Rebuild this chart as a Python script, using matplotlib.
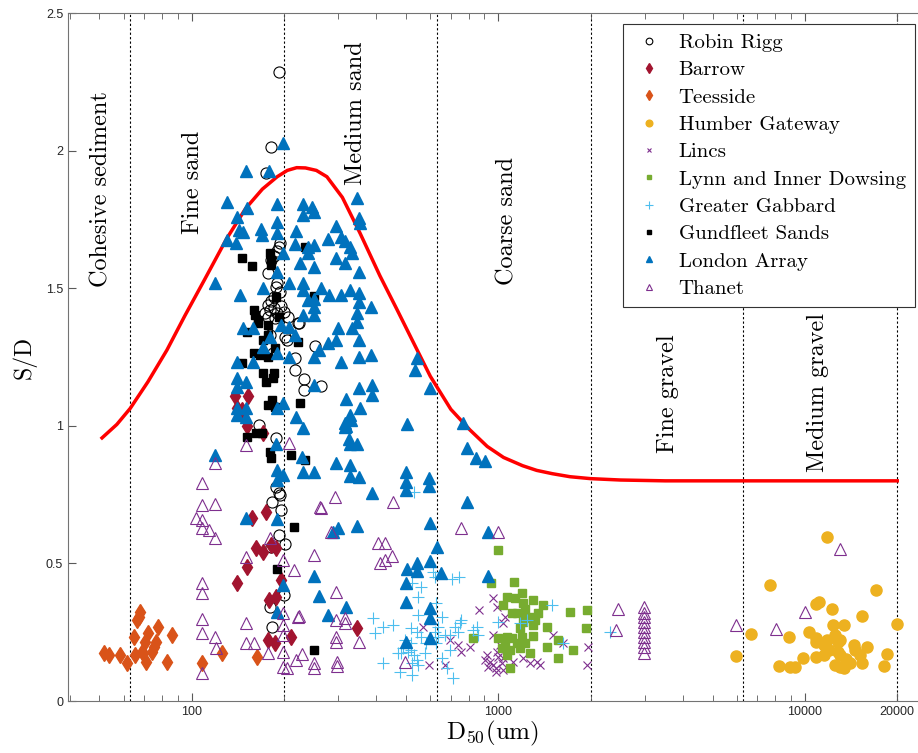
import numpy as np
import matplotlib
matplotlib.use("Agg")
import matplotlib.pyplot as plt
from matplotlib.ticker import LogLocator, NullFormatter, FixedLocator, FixedFormatter

plt.rcParams['mathtext.fontset'] = 'cm'

# ---- data (D50 in um, S/D) ----
robin_d = [192, 182, 175, 194, 192, 190, 186, 182, 178, 190, 188, 194, 185, 181, 177, 180, 185, 190, 196, 200,
           173, 178, 187, 206, 222, 180, 204, 201, 224, 184, 217, 217, 232, 232, 252, 265, 166, 188, 188, 193,
           183, 196, 193, 201, 182, 200, 180, 183, 194]
robin_sd = [2.287, 2.014, 1.917, 1.663, 1.651, 1.636, 1.617, 1.602, 1.554, 1.52, 1.503, 1.487, 1.469, 1.455, 1.439,
            1.421, 1.427, 1.411, 1.435, 1.415, 1.411, 1.394, 1.391, 1.394, 1.375, 1.33, 1.312, 1.324, 1.372, 1.263,
            1.245, 1.203, 1.169, 1.13, 1.29, 1.145, 1.003, 0.955, 0.779, 0.755, 0.724, 0.694, 0.603, 0.569, 0.561,
            0.385, 0.343, 0.268, 0.749]

barrow_d = [138, 153, 146, 152, 171, 140, 157, 175, 162, 171, 182, 189, 151, 141, 179, 189, 196, 178, 187, 211, 345]
barrow_sd = [1.108, 1.108, 1.057, 0.999, 0.973, 1.065, 0.664, 0.688, 0.555, 0.543, 0.567, 0.557, 0.488, 0.428,
             0.367, 0.379, 0.44, 0.222, 0.21, 0.231, 0.264]

teesside_d = [51.6, 53.6, 58.4, 61.5, 65.5, 66.5, 68, 67.5, 65, 70.3, 71.9, 71.1, 69.6, 68.9, 74.5, 75.4, 76.7,
              77.9, 82.8, 86, 107.9, 125.7, 163.6]
teesside_sd = [0.173, 0.167, 0.167, 0.137, 0.167, 0.294, 0.325, 0.306, 0.234, 0.215, 0.246, 0.143, 0.173, 0.179,
               0.179, 0.197, 0.215, 0.270, 0.143, 0.240, 0.137, 0.173, 0.161]

humber_d = [11800, 7690, 17100, 10900, 11100, 12240, 15300, 12350, 13420, 19900, 6650, 8850, 10310, 10900, 10900,
            12500, 11800, 12800, 13000, 11520, 14440, 15900, 14560, 15100, 5940, 12000, 12800, 13000, 11520, 10900,
            9870, 13600, 14010, 15300, 12500, 13050, 13400, 8240, 8930, 9280, 18100, 18500]
humber_sd = [0.597, 0.422, 0.403, 0.352, 0.361, 0.333, 0.309, 0.276, 0.276, 0.28, 0.242, 0.234, 0.252, 0.228, 0.215,
             0.24, 0.222, 0.215, 0.222, 0.203, 0.203, 0.197, 0.185, 0.167, 0.165, 0.185, 0.179, 0.167, 0.167, 0.159,
             0.155, 0.152, 0.139, 0.137, 0.131, 0.122, 0.119, 0.127, 0.122, 0.125, 0.128, 0.171]

lincs_d = [963, 867, 570, 592, 669, 695, 758, 807, 917, 940, 959, 983, 1000, 988, 1026, 1038, 983, 928, 905, 1034,
           1013, 963, 1038, 1051, 988, 1119, 1206, 1269, 1334, 1367, 1504, 1630, 1966, 1942, 741]
lincs_sd = [0.373, 0.331, 0.27, 0.131, 0.131, 0.222, 0.179, 0.197, 0.167, 0.143, 0.131, 0.119, 0.161, 0.179, 0.137,
            0.113, 0.107, 0.125, 0.149, 0.155, 0.203, 0.24, 0.282, 0.306, 0.343, 0.143, 0.155, 0.137, 0.143, 0.131,
            0.24, 0.21, 0.197, 0.131, 0.203]

lynn_d = [1000, 944, 1121, 1065, 1133, 1192, 1206, 1222, 1300, 1402, 1351, 1269, 1213, 1148, 1038, 1106, 1317, 1300,
          1438, 1713, 1942, 1932, 1568, 1748, 1568, 1438, 1294, 1222, 1192, 1269, 1177, 1148, 1106, 1065, 1000, 1051,
          1092, 1065, 1092, 1026, 829, 1177, 1206]
lynn_sd = [0.549, 0.428, 0.434, 0.379, 0.373, 0.391, 0.355, 0.333, 0.367, 0.349, 0.319, 0.306, 0.30, 0.319, 0.349,
           0.319, 0.294, 0.276, 0.27, 0.324, 0.331, 0.266, 0.222, 0.185, 0.155, 0.197, 0.236, 0.21, 0.231, 0.173,
           0.191, 0.21, 0.228, 0.234, 0.228, 0.203, 0.185, 0.167, 0.119, 0.191, 0.228, 0.264, 0.288]

gabbard_d = [390, 396, 421, 455, 421, 471, 483, 489, 506, 518, 518, 530, 542, 548, 524, 576, 583, 560, 542, 518, 548,
             558, 524, 614, 621, 705, 745, 695, 722, 749, 758, 741, 850, 861, 1000, 1491, 1177, 1237, 1630, 2315, 653,
             678, 713, 524, 477, 627, 637, 621, 637, 653, 669, 695, 530, 548, 627, 829, 496]
gabbard_sd = [0.30, 0.246, 0.27, 0.276, 0.137, 0.173, 0.173, 0.191, 0.179, 0.21, 0.185, 0.167, 0.149, 0.131, 0.137,
              0.173, 0.21, 0.234, 0.252, 0.264, 0.313, 0.415, 0.428, 0.47, 0.452, 0.442, 0.452, 0.24, 0.27, 0.282,
              0.294, 0.252, 0.27, 0.24, 0.288, 0.349, 0.282, 0.294, 0.21, 0.252, 0.155, 0.119, 0.082, 0.094, 0.107,
              0.21, 0.234, 0.252, 0.27, 0.306, 0.24, 0.185, 0.76, 0.379, 0.355, 0.258, 0.222]

gundfleet_d = [146, 157, 180, 181, 182, 189, 250, 234, 160, 161, 164, 177, 192, 152, 164, 177, 171, 187, 160, 167,
               178, 146, 222, 171, 185, 175, 184, 177, 183, 187, 226, 151, 162, 170, 180, 182, 211, 234, 215, 190, 251]
gundfleet_sd = [1.609, 1.581, 1.627, 1.602, 1.584, 1.469, 1.473, 1.651, 1.421, 1.403, 1.384, 1.366, 1.396, 1.342,
                1.372, 1.33, 1.312, 1.282, 1.263, 1.257, 1.251, 1.227, 1.306, 1.191, 1.191, 1.16, 1.173, 1.076, 1.094,
                1.067, 1.084, 0.96, 0.975, 0.973, 0.906, 0.882, 0.894, 0.876, 0.633, 0.479, 0.185]

london_d = [198, 150, 179, 130, 140, 151, 190, 231, 247, 250, 231, 347, 350, 355, 190, 168, 143, 147, 170, 190, 219,
            130, 139, 198, 217, 240, 250, 240, 278, 296, 307, 317, 328, 334, 296, 317, 350, 385, 119, 144, 171, 190,
            207, 225, 230, 250, 230, 264, 281, 240, 250, 307, 328, 350, 350, 250, 231, 250, 347, 347, 300, 334, 147,
            296, 278, 196, 180, 171, 190, 207, 350, 385,
            350, 307, 542, 533, 350, 386, 386, 598, 318, 355, 317, 316, 505, 769, 328, 790, 846, 902, 296, 328, 328,
            350, 386, 500, 500, 500, 596, 596, 790,
            598, 928, 632, 542, 542, 505, 598, 648, 500, 928, 500, 598, 598, 598, 500,
            141, 141, 150, 141, 141, 150, 141, 150, 159, 159, 190, 198, 217, 207, 250, 260, 250, 219, 231, 119, 188,
            229, 231, 250, 190, 198, 190, 328, 331, 345, 318, 326,
            150, 190, 198, 190, 250, 260, 278, 318, 288, 300, 345]
london_sd = [2.026, 1.927, 1.927, 1.814, 1.76, 1.79, 1.806, 1.806, 1.796, 1.778, 1.766, 1.829, 1.754, 1.738, 1.742,
             1.714, 1.711, 1.705, 1.693, 1.702, 1.709, 1.675, 1.663, 1.629, 1.659, 1.649, 1.657, 1.629, 1.678, 1.726,
             1.687, 1.673, 1.651, 1.627, 1.609, 1.59, 1.56, 1.433, 1.518, 1.475, 1.5, 1.56, 1.518, 1.59, 1.518, 1.578,
             1.494, 1.5, 1.475, 1.457, 1.46, 1.475, 1.494, 1.481, 1.451, 1.433, 1.403, 1.403, 1.409, 1.378, 1.354,
             1.354, 1.354, 1.312, 1.302, 1.366, 1.324, 1.287, 1.263, 1.251, 1.251, 1.257,
             1.312, 1.233, 1.245, 1.203, 1.136, 1.148, 1.112, 1.136, 1.096, 1.064, 1.011, 0.997, 1.007, 1.011, 0.934,
             0.918, 0.884, 0.872, 0.864, 0.858, 0.818, 0.815, 0.757, 0.833, 0.797, 0.767, 0.809, 0.781, 0.724,
             0.646, 0.615, 0.561, 0.50, 0.473, 0.479, 0.51, 0.464, 0.428, 0.454, 0.361, 0.337, 0.30, 0.228, 0.215,
             1.233, 1.173, 1.16, 1.142, 1.064, 1.064, 1.039, 1.033, 1.233, 1.354, 1.064, 1.082, 1.33, 1.36, 1.251,
             1.275, 1.148, 1.031, 0.991, 0.894, 0.934, 0.888, 0.833, 0.833, 0.839, 0.821, 0.803, 1.039, 1.021, 0.934,
             0.999, 0.951,
             0.664, 0.66, 0.421, 0.325, 0.454, 0.382, 0.313, 0.343, 0.615, 0.627, 0.636]

thanet_d = [150, 119, 108, 108, 119, 103, 108, 108, 114, 119, 108, 108, 108, 108, 119, 120, 108, 150, 150, 150, 160,
            180, 178, 198, 198, 198, 198, 198, 198, 215, 207, 222, 219, 250, 250, 250, 265, 293, 285, 296, 296, 296,
            296, 298, 298, 316, 317, 350, 262, 204, 224, 229, 455, 758, 1000, 406, 427, 411, 427, 449, 496,
            2450, 2420, 2990, 2990, 2990, 2990, 2990, 2990, 2990, 2990, 2990, 2990, 5940, 8060, 10000, 13000]
thanet_sd = [0.93, 0.864, 0.791, 0.712, 0.716, 0.664, 0.658, 0.627, 0.621, 0.591, 0.428, 0.391, 0.297, 0.246, 0.234,
             0.191, 0.10, 0.524, 0.282, 0.21, 0.21, 0.591, 0.173, 0.512, 0.319, 0.276, 0.24, 0.179, 0.125, 0.476,
             0.936, 0.306, 0.149, 0.531, 0.137, 0.119, 0.70, 0.742, 0.615, 0.397, 0.294, 0.234, 0.215, 0.143, 0.127,
             0.30, 0.282, 0.215, 0.704, 0.119, 0.309, 0.171, 0.724, 0.627, 0.615, 0.573, 0.573, 0.50, 0.512, 0.527,
             0.143, 0.333, 0.258, 0.343, 0.318, 0.306, 0.288, 0.27, 0.252, 0.234, 0.215, 0.197, 0.173, 0.276, 0.262,
             0.322, 0.552]

# red envelope curve
curve_d = [51, 57, 63, 72, 83, 95, 110, 130, 150, 170, 190, 205, 220, 235, 255, 276, 310, 354, 411, 466, 530, 600,
           700, 808, 920, 1040, 1200, 1334, 1500, 1713, 2000, 2500, 3500, 5000, 8000, 12000, 20000]
curve_sd = [0.956, 1.005, 1.063, 1.16, 1.275, 1.40, 1.53, 1.68, 1.79, 1.86, 1.905, 1.928, 1.938, 1.937, 1.928,
            1.905, 1.83, 1.70, 1.545, 1.425, 1.30, 1.18, 1.06, 0.985, 0.925, 0.885, 0.855, 0.838, 0.826, 0.815,
            0.808, 0.803, 0.80, 0.80, 0.80, 0.80, 0.80]

boundaries = [63, 200, 630, 2000, 6300, 20000]
zones = ["Cohesive sediment", "Fine sand", "Medium sand", "Coarse sand", "Fine gravel", "Medium gravel"]
zone_x = [50.6, 101, 342, 1067, 3580, 11000]
zone_y = [1.86, 1.886, 2.137, 1.744, 1.116, 1.12]

fig = plt.figure(figsize=(9.18, 7.53), dpi=100)
ax = fig.add_axes([68/918, 52/753, 850/918, 688/753])

for b in boundaries:
    ax.axvline(b, color='k', ls=(0, (2, 2)), lw=0.8, zorder=1)

ax.plot(curve_d, curve_sd, color='red', lw=2.5, zorder=2)

ms = 8
ax.plot(robin_d, robin_sd, 'o', mfc='none', mec='k', mew=0.8, ms=ms, label='Robin Rigg')
ax.plot(barrow_d, barrow_sd, 'd', color='#A2142F', ms=8.5, label='Barrow')
ax.plot(teesside_d, teesside_sd, 'd', color='#D95319', ms=8.5, label='Teesside')
ax.plot(humber_d, humber_sd, 'o', color='#EDB120', ms=ms, label='Humber Gateway')
ax.plot(lincs_d, lincs_sd, 'x', color='#7E2F8E', ms=6, mew=0.8, label='Lincs')
ax.plot(lynn_d, lynn_sd, 's', color='#77AC30', ms=6, label='Lynn and Inner Dowsing')
ax.plot(gabbard_d, gabbard_sd, '+', color='#4DBEEE', ms=9, mew=0.8, label='Greater Gabbard')
ax.plot(gundfleet_d, gundfleet_sd, 's', color='k', ms=6, label='Gundfleet Sands')
ax.plot(london_d, london_sd, '^', color='#0072BD', ms=ms, label='London Array')
ax.plot(thanet_d, thanet_sd, '^', mfc='none', mec='#7E2F8E', mew=0.8, ms=ms, label='Thanet')

for name, zx, zy in zip(zones, zone_x, zone_y):
    ax.text(zx, zy, name, rotation=90, ha='center', va='center', fontsize=17.5, family='cmr10')

ax.set_xscale('log')
ax.set_xlim(39.5, 23370)
ax.set_ylim(0, 2.5)
ax.xaxis.set_major_locator(FixedLocator([100, 1000, 10000, 20000]))
ax.xaxis.set_major_formatter(FixedFormatter(['100', '1000', '10000', '20000']))
ax.xaxis.set_minor_locator(LogLocator(base=10, subs=np.arange(2, 10), numticks=20))
ax.xaxis.set_minor_formatter(NullFormatter())
ax.set_yticks([0, 0.5, 1, 1.5, 2, 2.5])
ax.set_yticklabels(['0', '0.5', '1', '1.5', '2', '2.5'])
ax.tick_params(which='both', direction='in', top=True, right=False, colors='0.35',
               labelcolor='0.15', labelsize=9)
ax.tick_params(which='major', length=6, width=0.8)
ax.tick_params(which='minor', length=4, width=0.6)
for lab in ax.get_xticklabels() + ax.get_yticklabels():
    lab.set_family('Liberation Sans')
for s in ['left', 'bottom', 'top']:
    ax.spines[s].set_color('0.45')
ax.spines['right'].set_visible(False)

ax.set_ylabel('S/D', fontsize=17, family='cmr10', labelpad=7)
ax.set_xlabel(r'$\mathrm{D_{50}(um)}$', fontsize=18, labelpad=1)

leg = ax.legend(loc='upper right', bbox_to_anchor=(0.9965, 0.984), borderaxespad=0, fancybox=False,
                edgecolor='0.2', framealpha=1, markerscale=0.6, handletextpad=0.6, handlelength=1.6,
                labelspacing=0.42, borderpad=0.45, prop={'family': 'cmr10', 'size': 15})
leg.get_frame().set_linewidth(0.8)

fig.savefig('out.png', dpi=100)
